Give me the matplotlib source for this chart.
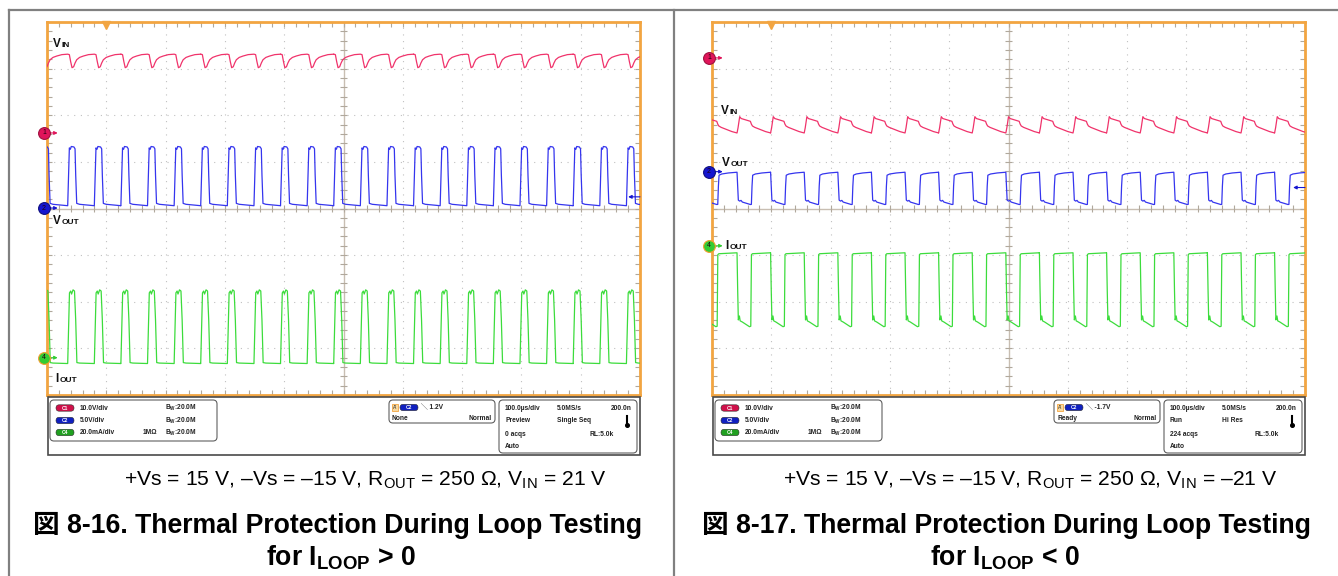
import matplotlib
matplotlib.use("Agg")
import matplotlib.pyplot as plt
from matplotlib.patches import FancyBboxPatch, Rectangle

plt.rcParams["font.family"] = ["Liberation Sans", "Noto Sans CJK JP"]
plt.rcParams["mathtext.fontset"] = "custom"
plt.rcParams["mathtext.rm"] = "Liberation Sans"
plt.rcParams["mathtext.it"] = "Liberation Sans:italic"
plt.rcParams["mathtext.bf"] = "Liberation Sans:bold"

# ---------------- data (time in µs, 100 µs/div) ----------------
ch_scale = [10.0, 5.0, 20.0]          # CH1 V/div, CH2 V/div, CH4 mA/div
left_offsets = [5.62, 4.01, 0.80]     # ground markers, div from bottom
right_offsets = [7.23, 4.79, 3.20]
left_trigger = 1.2                    # V on CH2
right_trigger = -1.7
trigger_time = 100.0

# Fig 8-16: rising edges of VOUT pulses
left_onsets = [-10.0, 34.9, 79.8, 124.6, 169.5, 214.4, 259.2, 304.1, 349.0,
               393.8, 438.7, 483.5, 528.4, 573.3, 618.1, 663.0, 707.9, 752.7,
               797.6, 842.5, 887.3, 932.2, 977.1]
left_vin_dt = [0, 2.8, 5.0, 7.3, 10.0, 12.4, 15.2, 20.0, 26.4, 35.0, 44.86]
left_vin = [16.9, 16.8, 15.3, 14.0, 14.2, 15.0, 15.7, 16.2, 16.5, 16.8, 16.9]
left_vout_dt = [0, 1.5, 2.8, 4.5, 6.0, 10.5, 12.4, 13.5, 15.2, 20.0, 44.86]
left_vout = [0.25, 3.55, 6.45, 6.3, 6.6, 6.55, 6.35, 3.55, 0.5, 0.4, 0.25]
left_iout_dt = [0, 1.5, 3.0, 5.0, 6.5, 9.0, 11.5, 13.5, 15.5, 20.0, 44.86]
left_iout = [-2.5, 11.9, 27.8, 28.6, 27.3, 29.1, 28.6, 16.2, -2.1, -2.3, -2.5]

# Fig 8-17: falling edges of VOUT pulses
right_onsets = [-14.5, 42.2, 98.8, 155.5, 212.2, 268.8, 325.5, 382.1, 438.8,
                495.5, 552.1, 608.8, 665.4, 722.1, 778.8, 835.4, 892.1, 948.7]
right_vin_dt = [0, 1.7, 4.5, 7.0, 22.5, 24.2, 26.0, 30.0, 40.0, 48.0, 56.66]
right_vin = [-16.1, -15.0, -12.6, -13.0, -13.6, -14.2, -14.6, -14.9, -15.4, -15.8, -16.1]
right_vout_dt = [0, 1.1, 2.2, 4.5, 6.7, 9.0, 22.5, 24.2, 25.3, 26.4, 30.9, 42.0, 56.66]
right_vout = [-0.06, -1.55, -3.05, -3.16, -3.08, -3.26, -3.52, -3.51, -1.55, -0.38, -0.25, -0.14, -0.06]
right_iout_dt = [0, 1.1, 2.2, 4.0, 5.3, 9.0, 21.0, 23.2, 24.3, 26.0, 56.66]
right_iout = [-3.0, -18.9, -31.8, -30.1, -32.2, -32.7, -34.7, -34.5, -3.8, -3.4, -3.0]

W, H = 1338, 576
ORANGE = "#F2A541"
TRACE = ["#F0336B", "#3535EE", "#3CDC3C"]
MARK = ["#E0155A", "#1515D0", "#33CC33"]
MARK_EDGE = ["#A01040", "#101080", "#F0A030"]

fig = plt.figure(figsize=(W / 100, H / 100), dpi=100, facecolor="white")


def tile(onsets, dt, vals):
    t, v = [], []
    for t0 in onsets:
        t += [t0 + d for d in dt]
        v += vals
    return t, v


def scope(x0, offsets, traces, trig):
    ax = fig.add_axes([x0 / W, 1 - 395 / H, 593 / W, 373 / H], zorder=1)
    ax.set_xlim(0, 1000)
    ax.set_ylim(0, 8)
    ax.set_xticks([])
    ax.set_yticks([])
    for s in ax.spines.values():
        s.set_color(ORANGE)
        s.set_linewidth(2)
    for k in range(1, 10):
        if k != 5:
            ax.axvline(k * 100, color="#c0c0c0", lw=0.8, ls=(0, (1, 5)))
    for k in range(1, 8):
        if k != 4:
            ax.axhline(k, color="#c0c0c0", lw=0.8, ls=(0, (1, 5)))
    ax.axvline(500, color="#c8beb2", lw=1)
    ax.axhline(4, color="#c8beb2", lw=1)
    xs = list(range(20, 1000, 20))
    ys = [k * 0.2 for k in range(1, 40)]
    tc = "#b0a89c"
    ax.vlines(xs, 4 - 0.07, 4 + 0.07, color=tc, lw=0.8)
    ax.vlines(xs, 0, 0.1, color=tc, lw=0.8)
    ax.vlines(xs, 7.9, 8, color=tc, lw=0.8)
    ax.hlines(ys, 500 - 6, 500 + 6, color=tc, lw=0.8)
    ax.hlines(ys, 0, 8, color=tc, lw=0.8)
    ax.hlines(ys, 992, 1000, color=tc, lw=0.8)

    for i, (onsets, dt, vals) in enumerate(traces):
        t, v = tile(onsets, dt, vals)
        ax.plot(t, [offsets[i] + x / ch_scale[i] for x in v], color=TRACE[i], lw=0.9, zorder=3)

    for i, num in enumerate(["1", "2", "4"]):
        off = offsets[i]
        ax.annotate("", xy=(18, off), xytext=(2, off), annotation_clip=False,
                    arrowprops=dict(arrowstyle="-|>", color=MARK[i], lw=0.8,
                                    mutation_scale=5, shrinkA=0, shrinkB=0))
        ax.plot([-5], [off], "o", ms=8.5, mfc=MARK[i], mec=MARK_EDGE[i], mew=0.8,
                clip_on=False, zorder=6)
        ax.text(-5, off, num, fontsize=5, ha="center", va="center", color="#200010",
                clip_on=False, zorder=7)

    ty = offsets[1] + trig / ch_scale[1]
    ax.annotate("", xy=(980, ty), xytext=(1000, ty), annotation_clip=False,
                arrowprops=dict(arrowstyle="-|>", color=MARK[1], lw=0.8,
                                mutation_scale=5, shrinkA=0, shrinkB=0))
    ax.plot([trigger_time], [7.93], marker="v", ms=5.5, color=ORANGE, clip_on=False, zorder=6)
    return ax


scope(47, left_offsets, [(left_onsets, left_vin_dt, left_vin),
                         (left_onsets, left_vout_dt, left_vout),
                         (left_onsets, left_iout_dt, left_iout)], left_trigger)
scope(712, right_offsets, [(right_onsets, right_vin_dt, right_vin),
                           (right_onsets, right_vout_dt, right_vout),
                           (right_onsets, right_iout_dt, right_iout)], right_trigger)

ov = fig.add_axes([0, 0, 1, 1], zorder=5)
ov.set_xlim(0, W)
ov.set_ylim(H, 0)
ov.axis("off")
ov.patch.set_alpha(0)

# table lines
ov.plot([9, W], [10, 10], color="#808080", lw=1.6)
ov.plot([9, 9], [10, H], color="#808080", lw=1.6)
ov.plot([674, 674], [10, H], color="#808080", lw=1.6)


def label(x, y, big, small, gap):
    ov.text(x, y, big, fontsize=8.5, weight="bold", va="baseline", color="#111111")
    ov.text(x + gap, y, small, fontsize=6, weight="bold", va="baseline", color="#111111")


label(53, 47, "V", "IN", 8.8)
label(53, 224, "V", "OUT", 8.8)
label(55, 382, "I", "OUT", 4.2)
label(721, 114, "V", "IN", 8.8)
label(722, 166, "V", "OUT", 8.8)
label(725, 249, "I", "OUT", 4.2)


def rbox(x, y, w, h, r=4):
    ov.add_patch(FancyBboxPatch((x, y), w, h, boxstyle=f"round,pad=0,rounding_size={r}",
                                fc="white", ec="#606060", lw=0.8))


def pill(x, y, color, txt):
    ov.add_patch(FancyBboxPatch((x, y - 3.2), 18, 6.4, boxstyle="round,pad=0,rounding_size=3.2",
                                fc=color, ec="#303030", lw=0.4))
    ov.text(x + 9, y, txt, fontsize=3.5, ha="center", va="center", color="white", weight="bold")


def info(dx, trig_txt, trig_state, mode, acq_type, acqs):
    fs = dict(fontsize=4.8, weight="bold", color="#222222", va="center")
    ov.add_patch(Rectangle((48 + dx, 397), 592, 58, fc="white", ec="#4a4a4a", lw=1.2))
    rbox(50 + dx, 400, 167, 41)
    rbox(389 + dx, 400, 106, 23)
    rbox(499 + dx, 400, 138, 53)
    rows = [408, 420.5, 432.5]
    cols = ["#D0104A", "#1020C0", "#20A020"]
    names = ["C1", "C2", "C4"]
    scales = ["10.0V/div", "5.0V/div", "20.0mA/div"]
    for r, c, n, s in zip(rows, cols, names, scales):
        pill(56 + dx, r, c, n)
        ov.text(80 + dx, r, s, **fs)
        ov.text(197 + dx, r, r"B$_\mathbf{W}$:20.0M", ha="right", **fs)
    ov.text(143 + dx, rows[2], "1MΩ", **fs)
    # trigger
    ov.add_patch(Rectangle((392 + dx, 404), 6, 7, fc="#F8D9A0", ec=ORANGE, lw=0.6))
    ov.text(395 + dx, 407.5, "A'", fontsize=3.5, ha="center", va="center", color="#222222")
    pill(400 + dx, 407.5, "#1020C0", "C2")
    ov.text(421 + dx, 407.5, "\u2572 " + trig_txt, **fs)
    ov.text(392 + dx, 418, trig_state, **fs)
    ov.text(492 + dx, 418, "Normal", ha="right", **fs)
    # acquisition
    ov.text(505 + dx, 408, "100.0µs/div", **fs)
    ov.text(557 + dx, 408, "5.0MS/s", **fs)
    ov.text(632 + dx, 408, "200.0n", ha="right", **fs)
    ov.text(505 + dx, 421, mode, **fs)
    ov.text(557 + dx, 421, acq_type, **fs)
    ov.plot([627 + dx] * 2, [416, 424], color="black", lw=1.5)
    ov.plot([627 + dx], [425], "o", ms=2.6, color="black")
    ov.text(505 + dx, 434, acqs, **fs)
    ov.text(614 + dx, 434, "RL:5.0k", ha="right", **fs)
    ov.text(505 + dx, 447, "Auto", **fs)


info(0, "1.2V", "None", "Preview", "Single Seq", "0 acqs")
info(665, "-1.7V", "Ready", "Run", "Hi Res", "224 acqs")

# captions
ov.text(365, 486, r"+Vs = 15 V, –Vs = –15 V, R$_{\mathrm{OUT}}$ = 250 Ω, V$_{\mathrm{IN}}$ = 21 V",
        fontsize=15.2, ha="center", va="baseline", family="Liberation Sans")
ov.text(1030, 486, r"+Vs = 15 V, –Vs = –15 V, R$_{\mathrm{OUT}}$ = 250 Ω, V$_{\mathrm{IN}}$ = –21 V",
        fontsize=15.2, ha="center", va="baseline", family="Liberation Sans")
ov.text(337.5, 533, "図 8-16. Thermal Protection During Loop Testing", fontsize=19.2,
        weight="bold", ha="center", va="baseline")
ov.text(1007, 533, "図 8-17. Thermal Protection During Loop Testing", fontsize=19.2,
        weight="bold", ha="center", va="baseline")
ov.text(341, 565, r"for I$_{\mathbf{LOOP}}$ > 0", fontsize=19.2, weight="bold",
        ha="center", va="baseline", family="Liberation Sans")
ov.text(1005, 565, r"for I$_{\mathbf{LOOP}}$ < 0", fontsize=19.2, weight="bold",
        ha="center", va="baseline", family="Liberation Sans")

fig.savefig("out.png", dpi=100, facecolor="white")
